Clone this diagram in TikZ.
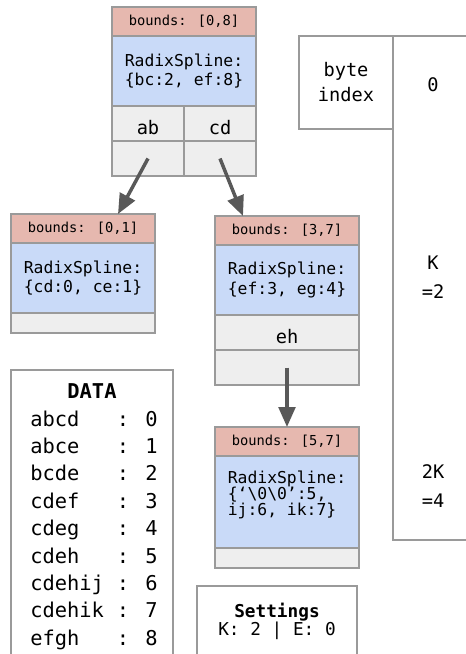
\documentclass[tikz,border=0pt]{standalone}
\usepackage{fontspec}
\setmainfont{DejaVu Sans Mono}
\usetikzlibrary{arrows.meta,positioning}

\definecolor{bndred}{HTML}{E6B8AF}
\definecolor{splblue}{HTML}{C9DAF8}
\definecolor{cellgray}{HTML}{EEEEEE}
\definecolor{edgegray}{HTML}{9A9A9A}
\definecolor{arrgray}{HTML}{595959}

\tikzset{
  rowbox/.style={draw=edgegray, line width=1.1pt, inner sep=0pt, outer sep=0pt, minimum width=108pt},
  bndrow/.style={rowbox, fill=bndred, minimum height=21.75pt, font=\fontsize{10.3}{12}\selectfont},
  splrow/.style={rowbox, fill=splblue, minimum height=52.5pt, align=left, font=\fontsize{12.3}{14.5}\selectfont},
  keyrow/.style={rowbox, fill=cellgray, minimum height=26.25pt, text height=17pt, text depth=0pt, font=\fontsize{14}{16}\selectfont},
  footrow/.style={rowbox, fill=cellgray, minimum height=15pt},
  halfcell/.style={keyrow, minimum width=54pt},
  ptr/.style={draw=arrgray, line width=2.6pt, -{Triangle[length=15pt,width=12.5pt]}},
  plainbox/.style={draw=edgegray, line width=1pt, outer sep=0pt},
  idxlbl/.style={align=center, font=\fontsize{14}{22}\selectfont},
  datarow/.style={anchor=base west, inner sep=0pt, font=\fontsize{15.3}{18}\selectfont}
}

\begin{document}
\begin{tikzpicture}[x=0.75pt,y=-0.75pt]
  \clip (0,0) rectangle (466,654);

  % root node
  \node[bndrow, anchor=north west] (rootB) at (112,7) {bounds: [0,8]};
  \node[splrow, below=0pt of rootB] (rootS) {RadixSpline:\\\{bc:2, ef:8\}};
  \node[halfcell, below right=0pt and 0pt of rootS.south west] (rootK1) {ab};
  \node[halfcell, right=0pt of rootK1] (rootK2) {cd};
  \node[halfcell, below=0pt of rootK1] (rootP1) {};
  \node[halfcell, below=0pt of rootK2] (rootP2) {};

  % left child
  \node[bndrow, anchor=north west] (leftB) at (11,214) {bounds: [0,1]};
  \node[splrow, below=0pt of leftB] (leftS) {RadixSpline:\\\{cd:0, ce:1\}};
  \node[footrow, below=0pt of leftS] (leftF) {};

  % middle child
  \node[bndrow, anchor=north west] (midB) at (215,216) {bounds: [3,7]};
  \node[splrow, below=0pt of midB] (midS) {RadixSpline:\\\{ef:3, eg:4\}};
  \node[keyrow, below=0pt of midS] (midK) {eh};
  \node[keyrow, below=0pt of midK] (midP) {};

  % bottom child
  \node[bndrow, anchor=north west] (botB) at (215,427) {bounds: [5,7]};
  \node[splrow, minimum height=69pt, below=0pt of botB] (botS) {};
  \node[align=left, inner sep=0pt, font=\fontsize{12.3}{12}\selectfont] (botT)
    at ([yshift=5.25pt]botS.center) {RadixSpline:\\\{‘\textbackslash 0\textbackslash 0’:5,\\ij:6, ik:7\}};
  \node[footrow, below=0pt of botS] (botF) {};

  % pointers
  \coordinate (leftIn) at (118,214);
  \coordinate (midIn) at (243,216);
  \draw[ptr] (rootP1.center) -- (leftIn);
  \draw[ptr] (rootP2.center) -- (midIn);
  \draw[ptr] (midP.center) -- (botB.north);

  % byte index column
  \node[plainbox, minimum width=70.5pt, minimum height=69.75pt, anchor=north west,
        align=center, font=\fontsize{14}{18.75}\selectfont] (byteIdx) at (299,36) {byte\\index};
  \draw[plainbox] (byteIdx.north east) rectangle (480,540);
  \node[idxlbl] (idx0) at (433,85) {0};
  \node[idxlbl] (idxK) at (433,277) {K\\=2};
  \node[idxlbl] (idx2K) at (433,486) {2K\\=4};

  % data table
  \draw[plainbox] (11,370) rectangle (173,670);
  \node[anchor=base, inner sep=0pt, font=\bfseries\fontsize{15.3}{18}\selectfont] (dataHd) at (92,398) {DATA};
  \foreach \key/\val [count=\i from 0] in {abcd/0, abce/1, bcde/2, cdef/3, cdeg/4, cdeh/5, cdehij/6, cdehik/7, efgh/8} {
    \node[datarow] (key\i) at (30,426+27.4*\i) {\key};
    \node[datarow] (val\i) at (116.5,426+27.4*\i) {: \val};
  }

  % settings
  \draw[plainbox] (197,586) rectangle (357,670);
  \node[align=center, font=\fontsize{13.3}{13.5}\selectfont] (setTxt) at (277,621) {\textbf{Settings}\\K: 2 | E: 0};
\end{tikzpicture}
\end{document}
